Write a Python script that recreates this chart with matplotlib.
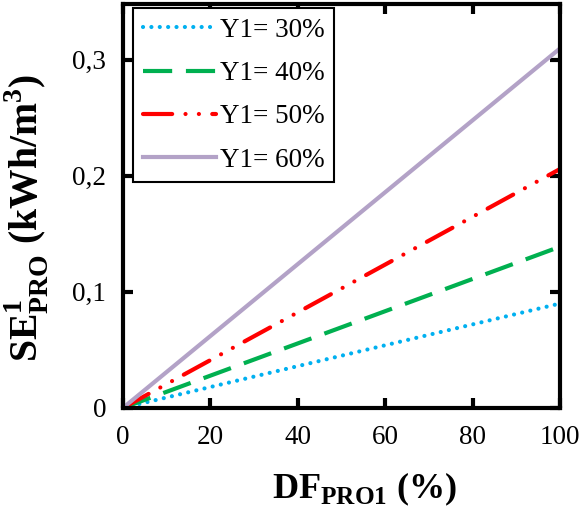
import matplotlib.pyplot as plt
from matplotlib.ticker import FuncFormatter

plt.rcParams['font.family'] = ['Liberation Serif', 'DejaVu Serif']
plt.rcParams['mathtext.fontset'] = 'custom'
plt.rcParams['mathtext.rm'] = 'Liberation Serif:bold'
plt.rcParams['mathtext.bf'] = 'Liberation Serif:bold'

# fraction de débit (%) et énergie spécifique aux bornes
df_pro = [0, 100]
se_30 = [0, 0.090]
se_40 = [0, 0.139]
se_50 = [0, 0.206]
se_60 = [0, 0.310]

labels = ['Y1= 30%', 'Y1= 40%', 'Y1= 50%', 'Y1= 60%']
xticks = [0, 20, 40, 60, 80, 100]
yticks = [0, 0.1, 0.2, 0.3]

fig = plt.figure(figsize=(5.83, 5.15), dpi=100)
ax = fig.add_axes([0.211, 0.208, 0.750, 0.784])

lw = 3
ax.plot(df_pro, se_30, color='#00B0F0', lw=lw, dashes=(0.01, 2.0),
        dash_capstyle='round', label=labels[0])
ax.plot(df_pro, se_40, color='#00B050', lw=lw, dashes=(7.0, 3.3),
        label=labels[1])
ax.plot(df_pro, se_50, color='#FF0000', lw=lw,
        dashes=(7.0, 3.2, 0.01, 3.2, 0.01, 3.2), dash_capstyle='round',
        label=labels[2])
ax.plot(df_pro, se_60, color='#B3A2C7', lw=lw, label=labels[3])

ax.set_xlim(0, 100)
ax.set_ylim(0, 0.348)
ax.set_xticks(xticks)
ax.set_yticks(yticks)
ax.yaxis.set_major_formatter(FuncFormatter(
    lambda v, p: '0' if v == 0 else f'{v:.1f}'.replace('.', ',')))

for s in ax.spines.values():
    s.set_linewidth(3)
ax.tick_params(direction='in', length=7, width=3, labelsize=19.5,
               top=True, right=True, pad=12)

ax.set_xlabel(r'DF$_\mathrm{PRO1}$ (%)', fontsize=26, fontweight='bold')
ax.set_ylabel(r'SE$^\mathrm{1}_\mathrm{PRO}$ (kWh/m$^\mathrm{3}$)',
              fontsize=28.5, fontweight='bold')
ax.xaxis.set_label_coords(0.553, -0.155)
ax.yaxis.set_label_coords(-0.165, 0.47)

leg = ax.legend(loc='upper left', bbox_to_anchor=(0.023, 0.99),
                fontsize=19.5, frameon=True, fancybox=False, handlelength=2.7,
                handletextpad=0.15, labelspacing=0.68, borderpad=0.35,
                borderaxespad=0)
leg.get_frame().set_edgecolor('black')
leg.get_frame().set_linewidth(1.5)
leg.get_frame().set_alpha(1)

fig.savefig('out.png', dpi=100)
